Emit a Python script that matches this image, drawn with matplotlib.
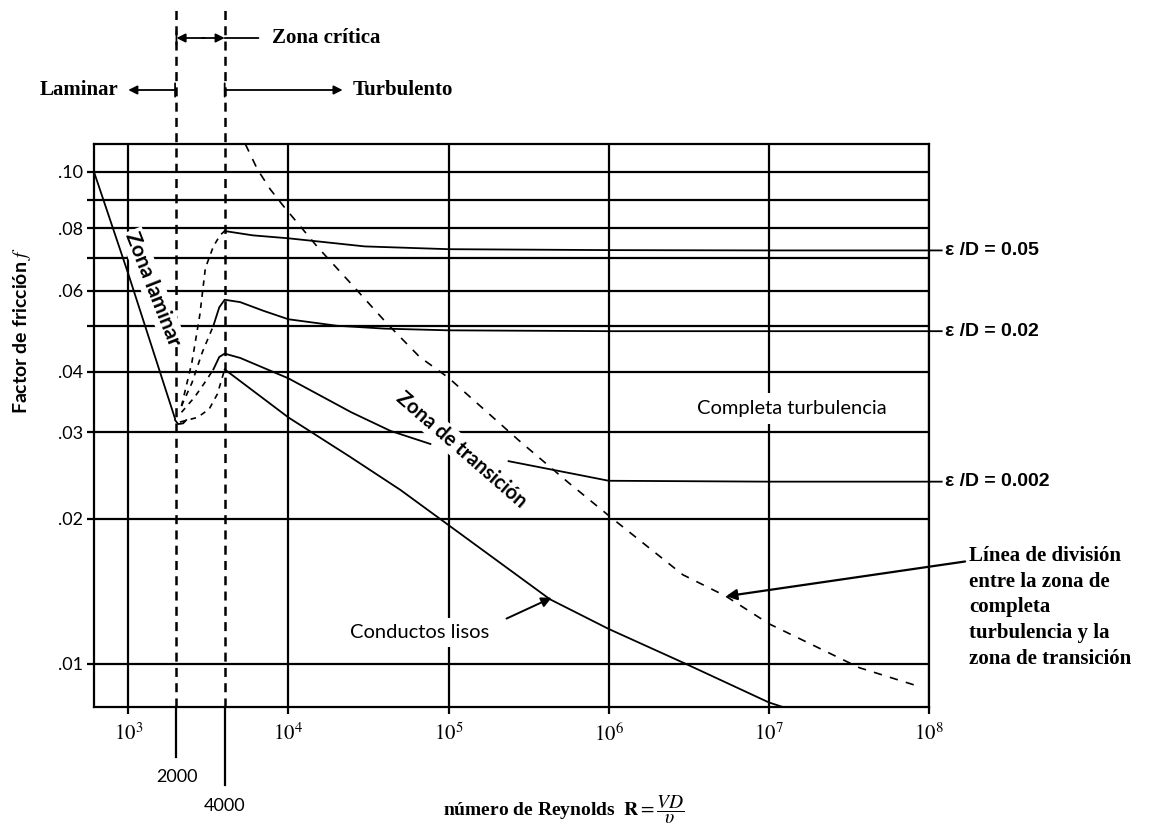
import numpy as np
import matplotlib.pyplot as plt
from matplotlib.ticker import NullLocator, NullFormatter

plt.rcParams['lines.scale_dashes'] = False
plt.rcParams['mathtext.fontset'] = 'stix'

# friction factor curves (Reynolds number, f)
re_laminar = [611, 1000, 1960]
f_laminar = [0.100, 0.065, 0.032]
re_hook = [1960, 2050, 2200, 2300]
f_hook = [0.0318, 0.0312, 0.0313, 0.0318]

re_smooth = [4000, 1e4, 2.4e4, 5e4, 1e5, 4.3e5, 1e6, 3e6, 1e7, 1.25e7]
f_smooth = [0.0405, 0.0322, 0.0268, 0.0229, 0.0194, 0.0136, 0.0118, 0.0100, 0.0083, 0.0081]

re_e05 = [4000, 6000, 1e4, 3e4, 1e5, 1e6, 1e7, 1.2e8]
f_e05 = [0.079, 0.0775, 0.0765, 0.0738, 0.0729, 0.0726, 0.0725, 0.0725]

re_e02 = [3400, 3700, 4000, 5000, 7000, 1e4, 2e4, 4e4, 1e5, 1e6, 1.2e8]
f_e02 = [0.050, 0.055, 0.0572, 0.0565, 0.054, 0.0517, 0.0500, 0.0493, 0.0489, 0.0487, 0.0487]

re_e002a = [3400, 3700, 4000, 5000, 1e4, 2.47e4, 4.34e4, 7.7e4]
f_e002a = [0.0405, 0.0430, 0.0437, 0.0428, 0.0388, 0.0330, 0.0302, 0.0284]
re_e002b = [2.37e5, 6.8e5, 1e6, 1e7, 1.2e8]
f_e002b = [0.0262, 0.0245, 0.0239, 0.0238, 0.0238]

# dashed curves in the critical zone
re_crit_05 = [2150, 2500, 2800, 3030, 3400, 3750, 4000]
f_crit_05 = [0.034, 0.042, 0.053, 0.0668, 0.0738, 0.0776, 0.079]
re_crit_02 = [2150, 2500, 2900, 3400]
f_crit_02 = [0.034, 0.038, 0.044, 0.050]
re_crit_002 = [2150, 2600, 3000, 3400]
f_crit_002 = [0.033, 0.0355, 0.038, 0.0405]
re_crit_smooth = [2100, 2700, 3200, 3600, 4000]
f_crit_smooth = [0.0315, 0.0322, 0.0335, 0.036, 0.0405]

# division line between complete turbulence and transition
re_div = [5380, 6400, 7700, 9300, 1.52e4, 2.44e4, 4.1e4, 6.6e4, 1e5, 2.74e5,
          5.6e5, 1e6, 2.9e6, 5.4e6, 1e7, 3.68e7, 8.3e7]
f_div = [0.111, 0.101, 0.0937, 0.0878, 0.0736, 0.0622, 0.0507, 0.0430, 0.0389, 0.0289,
         0.0237, 0.0203, 0.0153, 0.0138, 0.0121, 0.0098, 0.0090]

eps_labels = ['\u03b5 /D = 0.05', '\u03b5 /D = 0.02', '\u03b5 /D = 0.002']
eps_f = [0.0725, 0.0487, 0.0238]

f_major = [0.01, 0.02, 0.03, 0.04, 0.06, 0.08, 0.10]
f_major_labels = ['.01', '.02', '.03', '.04', '.06', '.08', '.10']
f_minor = [0.05, 0.07, 0.09]
re_ticks = [1e3, 1e4, 1e5, 1e6, 1e7, 1e8]
re_tick_labels = ['$10^3$', '$10^4$', '$10^5$', '$10^6$', '$10^7$', '$10^8$']

# the printed f axis is not quite logarithmic: screen rows of its gridlines
scale_f = np.log10([0.001, 0.01, 0.02, 0.03, 0.04, 0.05, 0.06, 0.07, 0.08, 0.09, 0.10, 1.0])
scale_px = np.array([1140, 662, 518, 432, 372, 326, 291, 259, 229, 201, 173, -439], float)


def fwd(f):
    f = np.clip(np.asarray(f, float), 1e-6, None)
    return -np.interp(np.log10(f), scale_f, scale_px)


def inv(v):
    return 10 ** np.interp(-np.asarray(v, float), scale_px[::-1], scale_f[::-1])


W, H = 1161, 836
fig = plt.figure(figsize=(W / 100, H / 100), dpi=100)
ax = fig.add_axes([94 / W, 1 - 707 / H, (929 - 94) / W, (707 - 144) / H])
ax.set_xscale('log')
ax.set_yscale('function', functions=(fwd, inv))
ax.set_xlim(611, 1e8)
ax.set_ylim(0.00812, 0.111)

for s in ax.spines.values():
    s.set_linewidth(1.6)

ax.set_yticks(f_major)
ax.set_yticklabels(f_major_labels)
ax.set_yticks(f_minor, minor=True)
ax.yaxis.set_minor_formatter(NullFormatter())
ax.set_xticks(re_ticks)
ax.set_xticklabels(re_tick_labels)
ax.xaxis.set_minor_locator(NullLocator())
ax.tick_params(which='both', length=5, width=1.6, direction='out')
ax.tick_params(axis='y', labelsize=13, pad=3)
ax.tick_params(axis='x', labelsize=15, pad=6)
for lab in ax.get_yticklabels():
    lab.set_family('Lato')

ax.set_axisbelow(True)
ax.grid(True, which='both', axis='y', color='k', lw=1.6)
ax.grid(True, which='major', axis='x', color='k', lw=1.6)

lw = 1.3
ax.plot(re_laminar, f_laminar, color='k', lw=lw)
ax.plot(re_hook, f_hook, color='k', lw=lw)
ax.plot(re_smooth, f_smooth, color='k', lw=lw)
ax.plot(re_e05, f_e05, color='k', lw=lw, clip_on=False)
ax.plot(re_e02, f_e02, color='k', lw=lw, clip_on=False)
ax.plot(re_e002a, f_e002a, color='k', lw=lw)
ax.plot(re_e002b, f_e002b, color='k', lw=lw, clip_on=False)
for rr, ff in [(re_crit_05, f_crit_05), (re_crit_02, f_crit_02),
               (re_crit_002, f_crit_002), (re_crit_smooth, f_crit_smooth)]:
    ax.plot(rr, ff, color='k', lw=1.2, dashes=(4, 4))
ax.plot(re_div, f_div, color='k', lw=1.2, dashes=(6, 6))

# critical Reynolds numbers: dashed verticals through the chart, solid below
xt = ax.get_xaxis_transform()
for re_c, y_end in [(2000, -0.089), (4000, -0.139)]:
    ax.plot([re_c, re_c], [0, 1.238], transform=xt, color='k', lw=1.8,
            dashes=(6.5, 4.5), clip_on=False)
    ax.plot([re_c, re_c], [0, y_end], transform=xt, color='k', lw=1.6, clip_on=False)
ax.text(2000, -0.125, '2000', transform=xt, ha='center', va='center', fontsize=13, family='Lato')
ax.text(4000, -0.175, '4000', transform=xt, ha='center', va='center', fontsize=13, family='Lato')

# regime arrows above the chart
top = ('data', 'figure fraction')
y1 = 1 - 38 / H
y2 = 1 - 90 / H
arr = dict(arrowstyle='-|>', lw=1.3, color='k', mutation_scale=13, shrinkA=0, shrinkB=0)
ax.annotate('', xy=(2000, y1), xytext=(3000, y1), xycoords=top, arrowprops=arr, annotation_clip=False)
ax.annotate('', xy=(4000, y1), xytext=(2900, y1), xycoords=top, arrowprops=arr, annotation_clip=False)
ax.annotate('', xy=(6500, y1), xytext=(4000, y1), xycoords=top,
            arrowprops=dict(arrowstyle='-', lw=1.3, color='k', shrinkA=0, shrinkB=0), annotation_clip=False)
ax.annotate('Zona cr\u00edtica', xy=(7900, y1), xycoords=top, ha='left', va='center',
            fontsize=15, family='Liberation Serif', weight='bold', annotation_clip=False)
ax.annotate('', xy=(1000, y2), xytext=(1960, y2), xycoords=top, arrowprops=arr, annotation_clip=False)
ax.annotate('Laminar', xy=(866, y2), xycoords=top, ha='right', va='center',
            fontsize=15, family='Liberation Serif', weight='bold', annotation_clip=False)
ax.annotate('', xy=(2.18e4, y2), xytext=(4000, y2), xycoords=top, arrowprops=arr, annotation_clip=False)
ax.annotate('Turbulento', xy=(2.5e4, y2), xycoords=top, ha='left', va='center',
            fontsize=15, family='Liberation Serif', weight='bold', annotation_clip=False)
for re_c, yy in [(2000, y1), (1960, y2), (4000, y2)]:
    ax.annotate('', xy=(re_c, yy - 0.008), xytext=(re_c, yy + 0.008), xycoords=top,
                arrowprops=dict(arrowstyle='-', lw=1.3, color='k', shrinkA=0, shrinkB=0),
                annotation_clip=False)

# labels inside the chart
wbox = dict(facecolor='white', edgecolor='none', pad=1.5)
ax.text(1430, 0.0605, 'Zona laminar', rotation=-68.5, rotation_mode='anchor', ha='center',
        va='center', fontsize=15, family='Lato', weight='bold', bbox=wbox, zorder=4)
ax.text(1.2e5, 0.0277, 'Zona de transici\u00f3n', rotation=-41, rotation_mode='anchor',
        ha='center', va='center', fontsize=14.5, family='Lato', weight='bold', bbox=wbox, zorder=4)
ax.text(1.39e7, 0.0336, 'Completa turbulencia', ha='center', va='center', fontsize=14.5,
        family='Lato', bbox=dict(facecolor='white', edgecolor='none', pad=5), zorder=4)
ax.text(6.6e4, 0.0116, 'Conductos lisos', ha='center', va='center', fontsize=14.5,
        family='Lato', bbox=dict(facecolor='white', edgecolor='none', pad=4), zorder=4)
ax.annotate('', xy=(4.4e5, 0.0137), xytext=(2.3e5, 0.0124),
            arrowprops=dict(arrowstyle='-|>', lw=1.4, color='k', mutation_scale=15,
                            shrinkA=0, shrinkB=0))

for lab, ff in zip(eps_labels, eps_f):
    ax.text(1.26e8, ff, lab, ha='left', va='center', fontsize=14,
            family='Liberation Sans', weight='bold', clip_on=False)

ax.annotate('', xy=(5.4e6, 0.0138), xytext=(1.68e8, 0.0163),
            arrowprops=dict(arrowstyle='-|>', lw=1.6, color='k', mutation_scale=16,
                            shrinkA=0, shrinkB=0), annotation_clip=False)
fig.text(969 / W, 1 - 546 / H,
         'L\u00ednea de divisi\u00f3n\nentre la zona de\ncompleta\nturbulencia y la\nzona de transici\u00f3n',
         ha='left', va='top', fontsize=15, family='Liberation Serif', weight='bold',
         linespacing=1.38)

fig.text(22 / W, 1 - 330 / H, 'Factor de fricci\u00f3n $f$', rotation=90, ha='center',
         va='center', fontsize=14, family='Lato', weight='bold')
fig.text(443 / W, 1 - 810 / H, 'n\u00famero de Reynolds  $\\mathbf{R} = \\dfrac{VD}{\\upsilon}$',
         ha='left', va='center', fontsize=14, family='Liberation Serif', weight='bold')

fig.savefig('out.png', dpi=100)
